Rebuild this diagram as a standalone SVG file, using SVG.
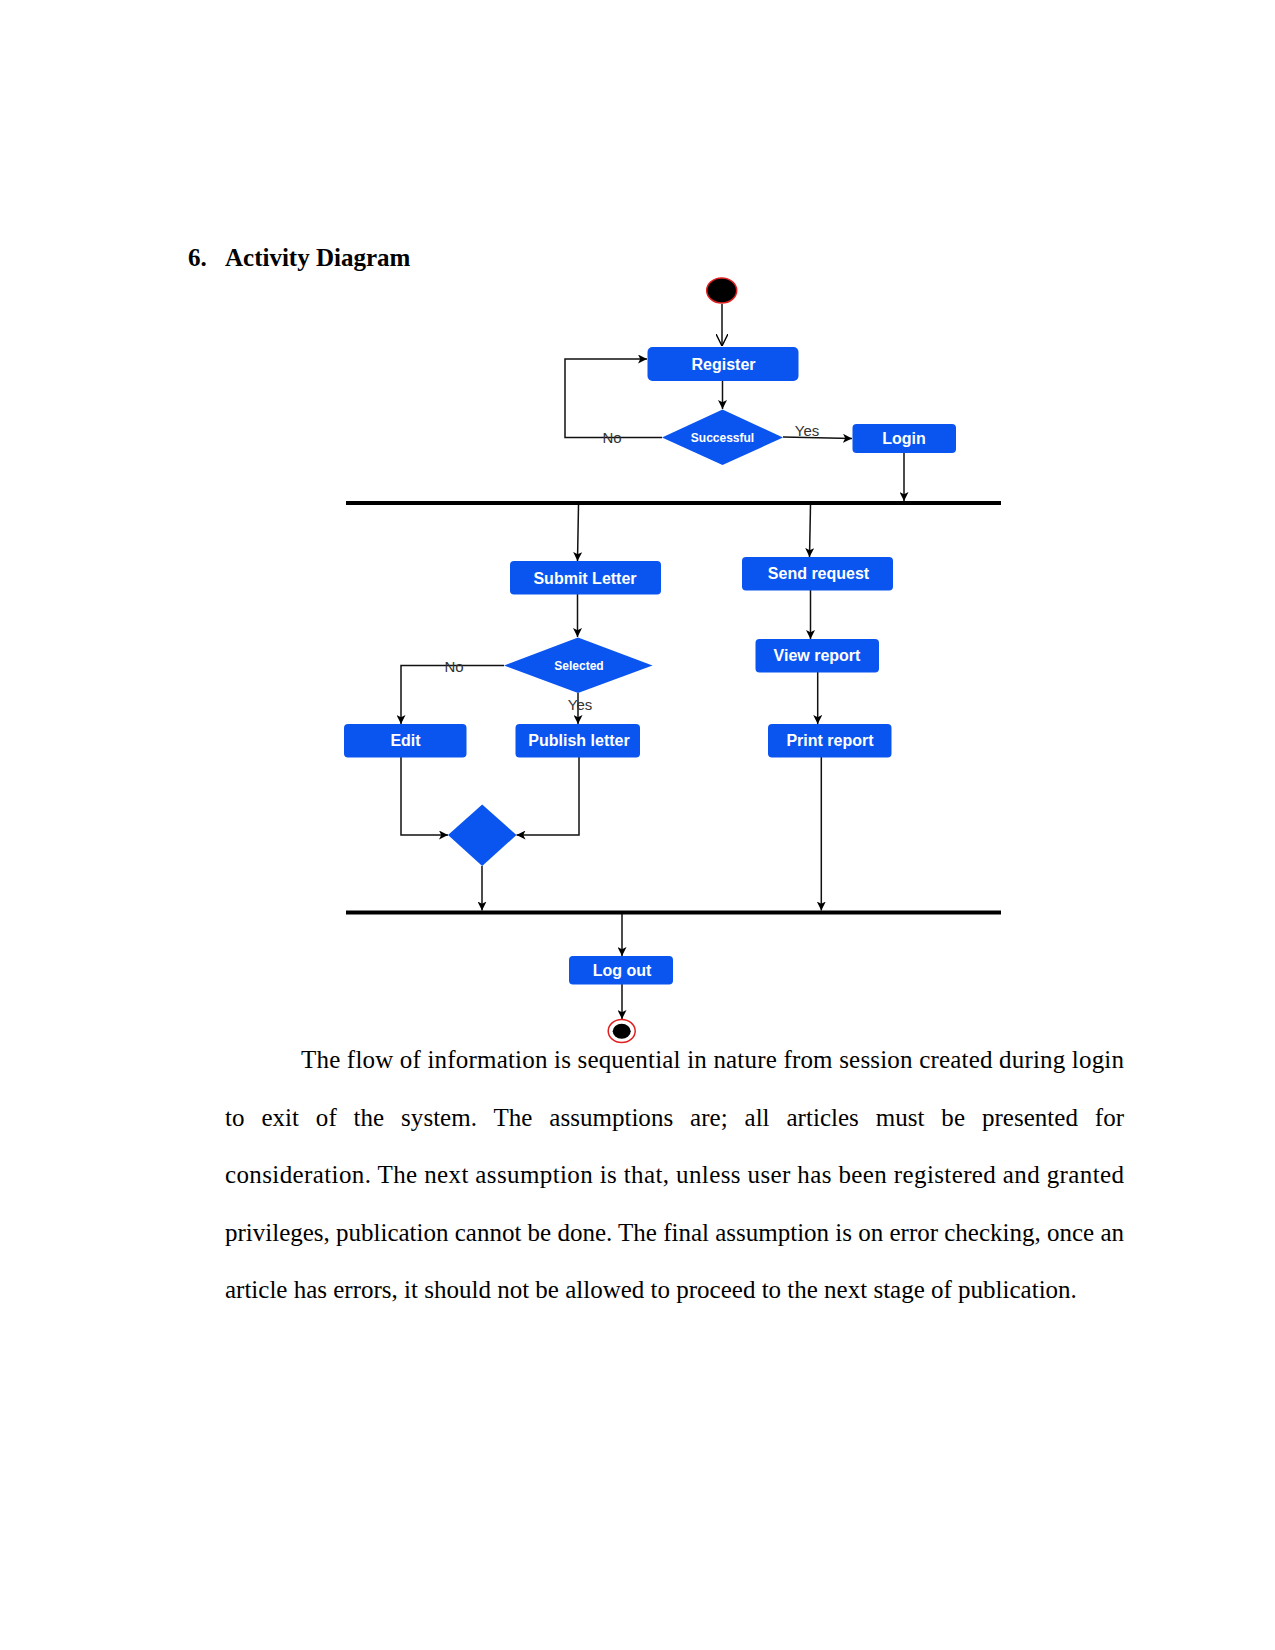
<svg xmlns="http://www.w3.org/2000/svg" width="1275" height="1650" viewBox="0 0 1275 1650">
<defs>
<style>
.node{fill:#0A55F0;}
.lbl{font-family:"Liberation Sans",Arial,sans-serif;font-weight:bold;fill:#ffffff;text-anchor:middle;font-size:16px;}
.sm{font-size:12px;}
.edge{fill:none;stroke:#111;stroke-width:1.5;}
.guard{font-family:"Liberation Sans",Arial,sans-serif;fill:#333;text-anchor:middle;font-size:15px;}
.body{font-family:"Liberation Serif","Times New Roman",serif;font-size:25px;fill:#000;}
.bar{fill:#000;}
</style>
<marker id="arr" viewBox="0 0 10 10" refX="10" refY="5" markerWidth="9" markerHeight="9" markerUnits="userSpaceOnUse" orient="auto">
<path d="M0,0 L10,5 L0,10 L2.5,5 z" fill="#000"/>
</marker>
<marker id="open" viewBox="0 0 10 10" refX="10" refY="5" markerWidth="12" markerHeight="12" markerUnits="userSpaceOnUse" orient="auto">
<path d="M0,0 L10,5 L0,10" fill="none" stroke="#000" stroke-width="1.2"/>
</marker>
</defs>
<rect width="1275" height="1650" fill="#ffffff"/>

<g id="title">
<text x="188" y="266" font-family="'Liberation Serif','Times New Roman',serif" font-weight="bold" font-size="25">6.</text>
<text x="225" y="266" font-family="'Liberation Serif','Times New Roman',serif" font-weight="bold" font-size="25">Activity Diagram</text>
</g>

<g id="connectors">
<line class="edge" x1="722" y1="304" x2="722" y2="346" marker-end="url(#open)"/>
<line class="edge" x1="722.5" y1="381" x2="722.5" y2="409" marker-end="url(#arr)"/>
<polyline class="edge" points="662,437.5 565,437.5 565,359 647,359" marker-end="url(#arr)"/>
<line class="edge" x1="783" y1="437" x2="852" y2="438.5" marker-end="url(#arr)"/>
<line class="edge" x1="904" y1="453" x2="904" y2="501" marker-end="url(#arr)"/>
<line class="edge" x1="578.5" y1="505" x2="577.5" y2="561" marker-end="url(#arr)"/>
<line class="edge" x1="810.5" y1="505" x2="809.5" y2="557" marker-end="url(#arr)"/>
<line class="edge" x1="577.5" y1="594" x2="577.5" y2="637" marker-end="url(#arr)"/>
<polyline class="edge" points="504,665.5 401,665.5 401,724" marker-end="url(#arr)"/>
<line class="edge" x1="578" y1="693" x2="578" y2="724" marker-end="url(#arr)"/>
<line class="edge" x1="810.5" y1="590" x2="810.5" y2="639" marker-end="url(#arr)"/>
<line class="edge" x1="817.7" y1="672" x2="817.7" y2="724" marker-end="url(#arr)"/>
<polyline class="edge" points="401,757 401,835 448,835" marker-end="url(#arr)"/>
<polyline class="edge" points="579,757 579,835 516.5,835" marker-end="url(#arr)"/>
<line class="edge" x1="482" y1="866" x2="482" y2="910.5" marker-end="url(#arr)"/>
<line class="edge" x1="821.3" y1="757" x2="821.3" y2="910.5" marker-end="url(#arr)"/>
<line class="edge" x1="622" y1="914" x2="622" y2="956" marker-end="url(#arr)"/>
<line class="edge" x1="622" y1="984" x2="622" y2="1019" marker-end="url(#arr)"/>
<text class="guard" x="612" y="443">No</text>
<text class="guard" x="807" y="436" font-size="13">Yes</text>
<text class="guard" x="454" y="671.5">No</text>
<text class="guard" x="580" y="710">Yes</text>
</g>

<g id="start">
<ellipse cx="721.7" cy="290.5" rx="15" ry="12.5" fill="#000" stroke="#e02020" stroke-width="1.5"/>
</g>

<g id="register">
<rect class="node" x="647.5" y="347" width="151" height="34" rx="5"/>
<text class="lbl" x="723.5" y="369.5">Register</text>
</g>

<g id="successful">
<polygon class="node" points="662,437.5 722.5,409.5 783,437.5 722.5,465"/>
<text class="lbl sm" x="722.5" y="441.8">Successful</text>
</g>

<g id="login">
<rect class="node" x="852.5" y="424" width="103.5" height="29" rx="4"/>
<text class="lbl" x="904" y="444">Login</text>
</g>

<g id="fork">
<rect class="bar" x="346" y="501" width="655" height="4"/>
</g>

<g id="submit-letter">
<rect class="node" x="510" y="561" width="151" height="33.5" rx="4"/>
<text class="lbl" x="585" y="583.5">Submit Letter</text>
</g>

<g id="selected">
<polygon class="node" points="504,665.5 578,637.5 652.5,665.5 578,693"/>
<text class="lbl sm" x="579" y="669.5">Selected</text>
</g>

<g id="edit">
<rect class="node" x="344" y="724" width="122.5" height="33.5" rx="4"/>
<text class="lbl" x="405.5" y="746">Edit</text>
</g>

<g id="publish-letter">
<rect class="node" x="515.5" y="724" width="124.5" height="33.5" rx="4"/>
<text class="lbl" x="579" y="746">Publish letter</text>
</g>

<g id="send-request">
<rect class="node" x="742" y="557" width="151" height="33.5" rx="4"/>
<text class="lbl" x="818.5" y="579">Send request</text>
</g>

<g id="view-report">
<rect class="node" x="755.5" y="639" width="123.5" height="33.5" rx="4"/>
<text class="lbl" x="817" y="661">View report</text>
</g>

<g id="print-report">
<rect class="node" x="768" y="724" width="123.5" height="33.5" rx="4"/>
<text class="lbl" x="830" y="746">Print report</text>
</g>

<g id="merge">
<polygon class="node" points="448,835 482.2,804.5 516.5,835 482.2,866"/>
</g>

<g id="join">
<rect class="bar" x="346" y="910.5" width="655" height="4"/>
</g>

<g id="logout">
<rect class="node" x="569" y="956" width="104" height="28.5" rx="4"/>
<text class="lbl" x="622" y="976">Log out</text>
</g>

<g id="end">
<ellipse cx="621.7" cy="1031" rx="13.5" ry="11.5" fill="#fff" stroke="#e02020" stroke-width="1.5"/>
<ellipse cx="621.7" cy="1031.3" rx="9" ry="7.5" fill="#000"/>
</g>

<g id="paragraph">
<text class="body" x="301" y="1068" textLength="823" lengthAdjust="spacing">The flow of information is sequential in nature from session created during login</text>
<text class="body" x="225" y="1125.5" word-spacing="10.6" textLength="899" lengthAdjust="spacing">to exit of the system. The assumptions are; all articles must be presented for</text>
<text class="body" x="225" y="1183" textLength="899" lengthAdjust="spacing">consideration. The next assumption is that, unless user has been registered and granted</text>
<text class="body" x="225" y="1240.5" textLength="899" lengthAdjust="spacing">privileges, publication cannot be done. The final assumption is on error checking, once an</text>
<text class="body" x="225" y="1298">article has errors, it should not be allowed to proceed to the next stage of publication.</text>
</g>
</svg>
